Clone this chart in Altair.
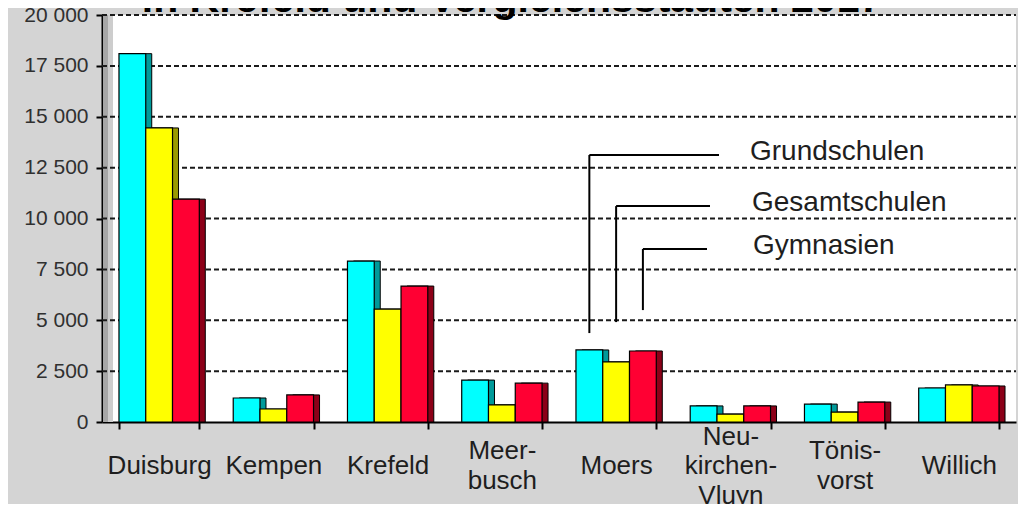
import altair as alt
import pandas as pd

# ---- data -------------------------------------------------------------
cities = ["Duisburg", "Kempen", "Krefeld", "Meer-|busch", "Moers",
          "Neu-|kirchen-|Vluyn", "Tönis-|vorst", "Willich"]
series = ["Grundschulen", "Gesamtschulen", "Gymnasien"]
grundschulen = [18100, 1180, 7910, 2060, 3540, 790, 880, 1670]
gesamtschulen = [14450, 640, 5550, 840, 2950, 390, 490, 1820]
gymnasien = [10950, 1330, 6680, 1910, 3490, 790, 980, 1770]
y_ticks = [0, 2500, 5000, 7500, 10000, 12500, 15000, 17500, 20000]
title_text = "in Krefeld und Vergleichsstädten 2017"

# leader lines of the in-chart legend (pointing at the Moers bars)
leader_city = "Moers"
leader_bottom = [4370, 4910, 5500]
leader_top = [13120, 10610, 8500]

# ---- styles -------------------------------------------------------------
front_colors = ["#00ffff", "#ffff00", "#ff0033"]
side_colors = ["#009a9a", "#9a9a00", "#8c0018"]
FONT = "Liberation Sans"
W, H = 914, 407
DEPTH = 6
P = "\u200b"  # zero-width filler line, keeps half-line spacing in labels

rows = []
for c, a, b, g in zip(cities, grundschulen, gesamtschulen, gymnasien):
    for s, v in zip(series, (a, b, g)):
        rows.append({"city": c, "series": s, "value": v})
df = pd.DataFrame(rows)

# labels: real lines separated by a filler half-line; block vertically centred
label_expr = (f"split(slice('{P}|{P}|', 2 * (length(split(datum.label, '|')) - 1)) + "
              f"replace(datum.label, regexp('[|]', 'g'), '|{P}|'), '|')")

x_axis = alt.Axis(title=None, domainColor="black", domainWidth=2,
                  tickColor="black", tickWidth=2, tickSize=7, tickBand="extent",
                  labelExpr=label_expr, labelFontSize=26,
                  labelFont=FONT, labelColor="#1e1e1e", labelPadding=7,
                  labelBaseline="middle", labelLineHeight=14.75, labelAngle=0,
                  labelOverlap=False, grid=False)
y_axis = alt.Axis(values=y_ticks, title=None, grid=False, domainColor="black",
                  domainWidth=2, tickColor="black", tickWidth=2, tickSize=6,
                  labelFontSize=21, labelFont=FONT, labelColor="#303030",
                  labelPadding=8,
                  labelExpr="replace(format(datum.value, ','), ',', ' ')")

yscale = alt.Scale(domain=[0, 20000], nice=False)
xscale = alt.Scale(paddingInner=0.297, paddingOuter=0.1486)
offscale = alt.Scale(domain=series, paddingInner=0, paddingOuter=0)
side_offscale = alt.Scale(domain=series, paddingInner=0, paddingOuter=0,
                          range=[DEPTH, alt.ExprRef(f"bandwidth('x') + {DEPTH}")])


def X():
    return alt.X("city:N", sort=cities, scale=xscale, axis=x_axis)


def Y(field):
    return alt.Y(field, scale=yscale, axis=y_axis)


one = pd.DataFrame({"k": [0]})

wall_dark = alt.Chart(one).mark_rect(color="#a6a6a6").encode(
    x=alt.value(1), x2=alt.value(6), y=alt.value(0), y2=alt.value(H))
wall_light = alt.Chart(one).mark_rect(color="#cdcdcd").encode(
    x=alt.value(6), x2=alt.value(11), y=alt.value(0), y2=alt.value(H))

grid = alt.Chart(pd.DataFrame({"value": y_ticks[1:]})).mark_rule(
    color="#1a1a1a", strokeWidth=2, strokeDash=[5, 3]).encode(
    y=Y("value:Q"), x=alt.value(0), x2=alt.value(W))

sides = alt.Chart(df).mark_bar(stroke="black", strokeWidth=1).encode(
    x=X(),
    xOffset=alt.XOffset("series:N", sort=series, scale=side_offscale),
    y=Y("value:Q"),
    color=alt.Color("series:N", sort=series,
                    scale=alt.Scale(domain=series, range=side_colors), legend=None))

fronts = alt.Chart(df).mark_bar(stroke="black", strokeWidth=1.2).encode(
    x=X(),
    xOffset=alt.XOffset("series:N", sort=series, scale=offscale),
    y=Y("value:Q"),
    fill=alt.Fill("series:N", sort=series,
                  scale=alt.Scale(domain=series, range=front_colors), legend=None))

layers = [wall_dark, wall_light, grid, sides, fronts]

line_ends = [617, 608, 605]
text_x = [648, 650, 651]
for s, b, t, xe, tx in zip(series, leader_bottom, leader_top, line_ends, text_x):
    ld = pd.DataFrame({"city": [leader_city], "series": [s], "bottom": [b], "top": [t]})
    vert = alt.Chart(ld).mark_rule(color="black", strokeWidth=2).encode(
        x=X(),
        xOffset=alt.XOffset("series:N", sort=series, scale=offscale),
        y=Y("bottom:Q"), y2="top:Q")
    horiz = alt.Chart(ld).mark_rule(color="black", strokeWidth=2).encode(
        x=X(),
        xOffset=alt.XOffset("series:N", sort=series, scale=offscale),
        x2=alt.value(xe),
        y=Y("top:Q"))
    txt = alt.Chart(ld).mark_text(align="left", baseline="middle", fontSize=28,
                                  font=FONT, color="#1e1e1e", dy=-3).encode(
        x=alt.value(tx), y=Y("top:Q"), text="series:N")
    layers += [vert, horiz, txt]

title = alt.Chart(one).mark_text(text=title_text, fontSize=41, fontWeight="bold",
                                 font=FONT, color="black", align="center",
                                 baseline="alphabetic").encode(
    x=alt.value(410), y=alt.value(-3))
layers.append(title)

chart = alt.layer(*layers).resolve_scale(
    color="independent", xOffset="independent"
).properties(
    width=W, height=H,
    autosize=alt.AutoSizeParams(type="none"),
    padding={"left": 94, "top": 7, "right": 2, "bottom": 82},
    background="#d4d4d4",
).configure(font=FONT, view=alt.ViewConfig(fill="white", stroke=None))

chart.save("out.html", embed_options={"renderer": "svg", "actions": False})
